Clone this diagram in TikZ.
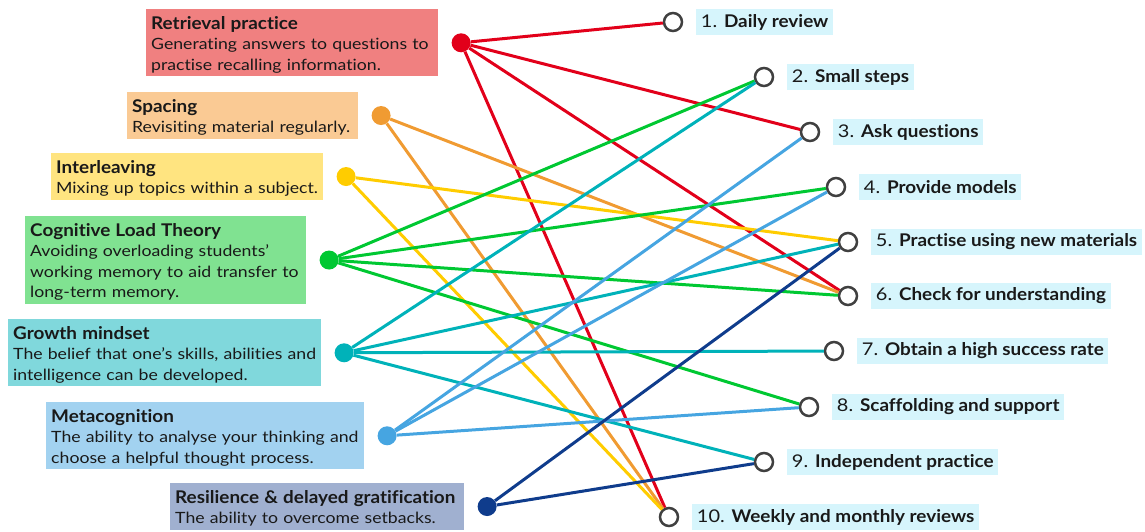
\documentclass[tikz,border=0pt]{standalone}
\usepackage{fontspec}
\setmainfont{Lato}[FakeStretch=1.14,Ligatures=NoCommon,BoldFeatures={FakeStretch=1.08}]
\usetikzlibrary{positioning}
\definecolor{rpline}{RGB}{226,0,26}
\definecolor{rpbg}{RGB}{240,128,128}
\definecolor{spline}{RGB}{240,155,50}
\definecolor{spbg}{RGB}{250,202,148}
\definecolor{illine}{RGB}{255,204,0}
\definecolor{ilbg}{RGB}{255,228,128}
\definecolor{clline}{RGB}{0,200,50}
\definecolor{clbg}{RGB}{128,226,145}
\definecolor{gmline}{RGB}{0,178,185}
\definecolor{gmbg}{RGB}{128,216,220}
\definecolor{mcline}{RGB}{70,165,225}
\definecolor{mcbg}{RGB}{162,210,240}
\definecolor{rsline}{RGB}{15,60,140}
\definecolor{rsbg}{RGB}{160,176,208}
\definecolor{ringgray}{RGB}{64,64,64}
\definecolor{labelbg}{RGB}{214,245,252}
\newcommand{\topictext}[2]{\begin{tabular}{@{}l@{}}\rule{0pt}{20pt}{\fontsize{17.5}{21}\selectfont\bfseries #1}\\#2\end{tabular}}
\tikzset{
	topic/.style={fill=#1,anchor=north west,align=left,inner xsep=5pt,inner ysep=0pt,
		text=black!90,font=\fontsize{15.5}{20.5}\selectfont},
	dot/.style={circle,fill=#1,minimum size=19pt,inner sep=0pt},
	link/.style={draw=#1,line width=3pt},
	ring/.style={circle,draw=ringgray,line width=2.5pt,fill=white,minimum size=18pt,inner sep=0pt},
	steplabel/.style={fill=labelbg,minimum height=26pt,inner xsep=4.5pt,text=black!90,
		font=\fontsize{17.5}{18}\selectfont,right=13pt of #1}
}
\begin{document}
\begin{tikzpicture}[x=1pt,y=-1pt]
	\useasboundingbox (0,0) rectangle (1145,531);
	% strategies
	\node[topic=rpbg,text width=282pt] (rpbox) at (146,9) {\topictext{Retrieval practice}{Generating answers to questions to\\practise recalling information.}};
	\node[topic=spbg,text width=221pt] (spbox) at (127,92) {\topictext{Spacing}{Revisiting material regularly.}};
	\node[topic=ilbg,text width=262pt] (ilbox) at (51,153) {\topictext{Interleaving}{Mixing up topics within a subject.}};
	\node[topic=clbg,text width=271pt] (clbox) at (25,216) {\topictext{Cognitive Load Theory}{Avoiding overloading students’\\working memory to aid transfer to\\long-term memory.}};
	\node[topic=gmbg,text width=303pt] (gmbox) at (8,319) {\topictext{Growth mindset}{The belief that one’s skills, abilities and\\intelligence can be developed.}};
	\node[topic=mcbg,text width=308pt] (mcbox) at (46,402) {\topictext{Metacognition}{The ability to analyse your thinking and\\choose a helpful thought process.}};
	\node[topic=rsbg,text width=284pt] (rsbox) at (170,483) {\topictext{Resilience \& delayed gratification}{The ability to overcome setbacks.}};
	\node[dot=rpline,right=13pt of rpbox] (rp) {};
	\node[dot=spline,right=13pt of spbox] (sp) {};
	\node[dot=illine,right=13pt of ilbox] (il) {};
	\node[dot=clline,right=13pt of clbox] (cl) {};
	\node[dot=gmline,right=13pt of gmbox] (gm) {};
	\node[dot=mcline,right=13pt of mcbox] (mc) {};
	\node[dot=rsline,right=13pt of rsbox] (rs) {};
	% principles
	\node[ring] (p1) at (673,22) {};
	\node[ring] (p2) at (764,77) {};
	\node[ring] (p3) at (810,132) {};
	\node[ring] (p4) at (836,187) {};
	\node[ring] (p5) at (848,242) {};
	\node[ring] (p6) at (848,296) {};
	\node[ring] (p7) at (834,351) {};
	\node[ring] (p8) at (809,407) {};
	\node[ring] (p9) at (764,462) {};
	\node[ring] (p10) at (669,517) {};
	\node[steplabel=p1] (l1) {1. \textbf{Daily review}};
	\node[steplabel=p2] (l2) {2. \textbf{Small steps}};
	\node[steplabel=p3] (l3) {3. \textbf{Ask questions}};
	\node[steplabel=p4] (l4) {4. \textbf{Provide models}};
	\node[steplabel=p5] (l5) {5. \textbf{Practise using new materials}};
	\node[steplabel=p6] (l6) {6. \textbf{Check for understanding}};
	\node[steplabel=p7] (l7) {7. \textbf{Obtain a high success rate}};
	\node[steplabel=p8] (l8) {8. \textbf{Scaffolding and support}};
	\node[steplabel=p9] (l9) {9. \textbf{Independent practice}};
	\node[steplabel=p10] (l10) {10. \textbf{Weekly and monthly reviews}};
	% links
	\draw[link=rpline] (rp)--(p1);
	\draw[link=rpline] (rp)--(p3);
	\draw[link=rpline] (rp)--(p6);
	\draw[link=rpline] (rp)--(p10);
	\draw[link=spline] (sp)--(p6);
	\draw[link=spline] (sp)--(p10);
	\draw[link=illine] (il)--(p5);
	\draw[link=illine] (il)--(p10);
	\draw[link=clline] (cl)--(p2);
	\draw[link=clline] (cl)--(p4);
	\draw[link=clline] (cl)--(p6);
	\draw[link=clline] (cl)--(p8);
	\draw[link=gmline] (gm)--(p2);
	\draw[link=gmline] (gm)--(p5);
	\draw[link=gmline] (gm)--(p7);
	\draw[link=gmline] (gm)--(p9);
	\draw[link=mcline] (mc)--(p3);
	\draw[link=mcline] (mc)--(p4);
	\draw[link=mcline] (mc)--(p8);
	\draw[link=rsline] (rs)--(p5);
	\draw[link=rsline] (rs)--(p9);
\end{tikzpicture}
\end{document}
